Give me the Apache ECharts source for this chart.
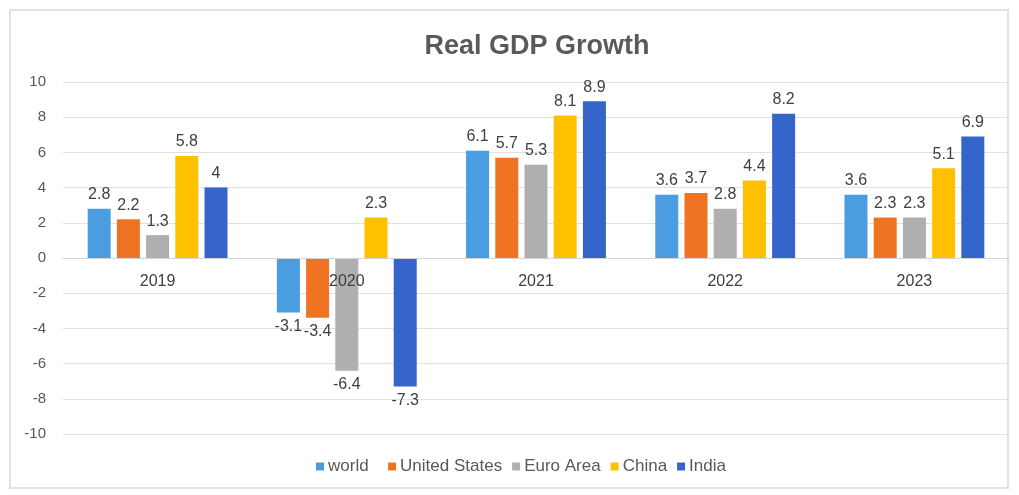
<!DOCTYPE html>
<html>
<head>
<meta charset="utf-8">
<script src="https://cdn.jsdelivr.net/npm/echarts@6/dist/echarts.min.js"></script>
<style>
  html, body { margin: 0; padding: 0; background: #ffffff; }
  #chart { width: 1019px; height: 495px; }
</style>
</head>
<body>
<div id="chart"></div>
<script>
// Real GDP growth (%) by year
const years = ['2019', '2020', '2021', '2022', '2023'];
const world = [2.8, -3.1, 6.1, 3.6, 3.6];
const unitedStates = [2.2, -3.4, 5.7, 3.7, 2.3];
const euroArea = [1.3, -6.4, 5.3, 2.8, 2.3];
const china = [5.8, 2.3, 8.1, 4.4, 5.1];
const india = [4, -7.3, 8.9, 8.2, 6.9];

const seriesDefs = [
  { name: 'world', data: world, color: '#4b9de2' },
  { name: 'United States', data: unitedStates, color: '#ee7424' },
  { name: 'Euro Area', data: euroArea, color: '#afafaf' },
  { name: 'China', data: china, color: '#ffc000' },
  { name: 'India', data: india, color: '#3564cb' }
];

const gridTop = 82;
const gridBottom = 61;
const chartHeight = 495;
// half the plot height: distance from the bottom edge to the zero line
const zeroOffset = (chartHeight - gridTop - gridBottom) / 2;

const chart = echarts.init(document.getElementById('chart'), null, { renderer: 'canvas' });

chart.setOption({
  backgroundColor: '#ffffff',
  animation: false,
  textStyle: { fontFamily: 'Liberation Sans, Arial, sans-serif' },
  title: {
    text: 'Real GDP Growth',
    left: 532,
    textAlign: 'center',
    top: 28,
    textStyle: { fontSize: 27, fontWeight: 'bold', color: '#5a5a5a' }
  },
  graphic: [{
    type: 'rect',
    shape: { x: 10, y: 10, width: 998, height: 478 },
    style: { fill: 'none', stroke: '#e2e2e2', lineWidth: 2 },
    silent: true
  }],
  legend: {
    bottom: 15,
    left: 311,
    itemWidth: 8,
    itemHeight: 8,
    itemGap: 10,
    icon: 'rect',
    data: seriesDefs.map(s => s.name),
    formatter: name => name === 'world' ? name + '  ' : name,
    textStyle: { fontSize: 17, color: '#595959', padding: [0, 0, 0, -1] }
  },
  grid: { left: 63, right: 10, top: gridTop, bottom: gridBottom },
  xAxis: {
    type: 'category',
    data: years,
    offset: -zeroOffset,
    z: 10,
    axisLine: { onZero: false, lineStyle: { color: '#d4d4d4' } },
    axisTick: { show: false },
    axisLabel: { fontSize: 16, color: '#404040', margin: 16 }
  },
  yAxis: {
    type: 'value',
    min: -10,
    max: 10,
    interval: 2,
    axisLine: { show: false },
    axisTick: { show: false },
    axisLabel: { fontSize: 15, color: '#595959', margin: 17 },
    splitLine: { lineStyle: { color: '#e0e0e0', width: 1 } }
  },
  series: seriesDefs.map(s => ({
    name: s.name,
    type: 'bar',
    data: s.data.map(v => ({
      value: v,
      label: { position: v >= 0 ? 'top' : 'bottom' }
    })),
    barWidth: 23,
    barGap: '27%',
    itemStyle: { color: s.color },
    label: {
      show: true,
      fontSize: 16,
      color: '#404040',
      distance: 6
    }
  }))
});
</script>
</body>
</html>
